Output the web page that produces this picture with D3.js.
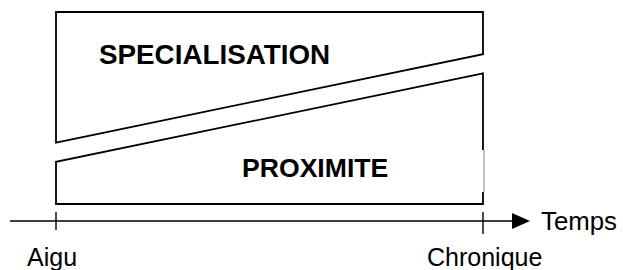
<!DOCTYPE html>
<meta charset="utf-8">
<html lang="fr">
<head>
<title>Specialisation / Proximite</title>
<style>
  html, body { margin: 0; padding: 0; background: #fff; }
  #chart svg { display: block; }
  .lbl { font-family: "Liberation Sans", Arial, sans-serif; fill: #000; }
</style>
</head>
<body>
<div id="chart"></div>

<script src="https://d3js.org/d3.v7.min.js"></script>
<script>
// stages along the time axis
const stages = ["Aigu", "Chronique"];
// share (0-100) : lower edge of the specialisation band, upper edge of the proximite band
const specialisationLow = [32, 78];
const proximiteHigh = [22, 68];
const bandNames = ["SPECIALISATION", "PROXIMITE"];
const axisName = "Temps";

const width = 623, height = 270;

var svg = d3.select("#chart").append("svg")
    .attr("width", width)
    .attr("height", height);

// x : aigu -> chronique, y : share 0..100
var x = d3.scalePoint().domain(stages).range([56, 483]);
var y = d3.scaleLinear().domain([0, 100]).range([204, 12]);

var line = d3.line()
    .x(d => x(d[0]))
    .y(d => y(d[1]));

// specialisation band (top)
var topPts = [
    [stages[0], specialisationLow[0]],
    [stages[0], 100],
    [stages[1], 100],
    [stages[1], specialisationLow[1]]
];
svg.append("path")
    .attr("d", line(topPts) + "Z")
    .attr("fill", "none")
    .attr("stroke", "#000")
    .attr("stroke-width", 1.8);

// proximite band (bottom) - right edge drawn apart, it is partly faded
var botPts = [
    [stages[1], proximiteHigh[1]],
    [stages[0], proximiteHigh[0]],
    [stages[0], 0],
    [stages[1], 0]
];
svg.append("path")
    .attr("d", line(botPts))
    .attr("fill", "none")
    .attr("stroke", "#000")
    .attr("stroke-width", 1.8);

svg.append("line")
    .attr("x1", x(stages[1])).attr("x2", x(stages[1]))
    .attr("y1", y(proximiteHigh[1]) - 1).attr("y2", 150)
    .attr("stroke", "#000").attr("stroke-width", 1.8);
svg.append("line")
    .attr("x1", x(stages[1]) + 1).attr("x2", x(stages[1]) + 1)
    .attr("y1", 150).attr("y2", 192)
    .attr("stroke", "#888").attr("stroke-width", 1);
svg.append("line")
    .attr("x1", x(stages[1])).attr("x2", x(stages[1]))
    .attr("y1", 192).attr("y2", y(0) + 1)
    .attr("stroke", "#000").attr("stroke-width", 1.8);

// band labels
svg.append("text")
    .attr("class", "lbl")
    .attr("x", 99).attr("y", 64)
    .style("font-size", "27.8px").style("font-weight", "bold")
    .text(bandNames[0]);
svg.append("text")
    .attr("class", "lbl")
    .attr("x", 242).attr("y", 177)
    .style("font-size", "26.6px").style("font-weight", "bold")
    .text(bandNames[1]);

// time axis with arrow
var axisY = 221;
svg.append("line")
    .attr("x1", 10).attr("x2", 514)
    .attr("y1", axisY).attr("y2", axisY)
    .attr("stroke", "#000").attr("stroke-width", 1.4);
svg.append("path")
    .attr("d", "M512," + (axisY - 8) + "L530," + axisY + "L512," + (axisY + 8) + "Z")
    .attr("fill", "#000");

svg.selectAll(".tick")
    .data(stages)
    .enter().append("line")
    .attr("class", "tick")
    .attr("x1", d => x(d)).attr("x2", d => x(d))
    .attr("y1", 212).attr("y2", (d, i) => i == 0 ? 230 : 234)
    .attr("stroke", "#000").attr("stroke-width", 1.4);

svg.append("text")
    .attr("class", "lbl")
    .attr("x", 541).attr("y", 230)
    .style("font-size", "25.8px")
    .text(axisName);

svg.selectAll(".stage")
    .data(stages)
    .enter().append("text")
    .attr("class", "lbl stage")
    .attr("x", (d, i) => i == 0 ? 27 : 427)
    .attr("y", 266)
    .style("font-size", "25px")
    .text(d => d);
</script>
</body>
</html>
